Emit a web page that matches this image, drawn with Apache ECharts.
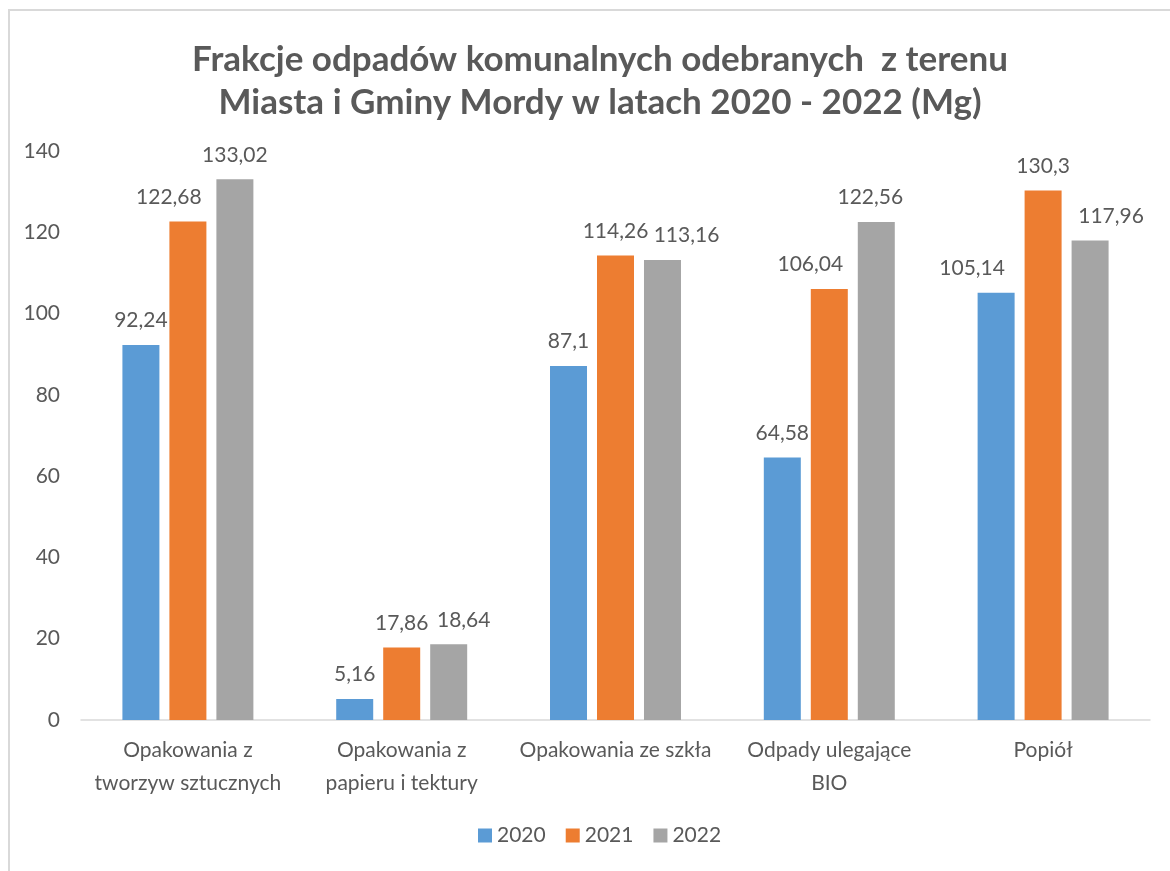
<!DOCTYPE html>
<html>
<head>
<meta charset="utf-8">
<script src="https://cdn.jsdelivr.net/npm/echarts@6/dist/echarts.min.js"></script>
<style>
  html, body { margin: 0; padding: 0; background: #fff; }
  #chart { width: 1170px; height: 871px; }
</style>
</head>
<body>
<div id="chart"></div>
<script>
// dane
const categories = [
  'Opakowania z\ntworzyw sztucznych',
  'Opakowania z\npapieru i tektury',
  'Opakowania ze szkła',
  'Odpady ulegające\nBIO',
  'Popiół'
];
const years = ['2020', '2021', '2022'];
const values2020 = [92.24, 5.16, 87.1, 64.58, 105.14];
const values2021 = [122.68, 17.86, 114.26, 106.04, 130.3];
const values2022 = [133.02, 18.64, 113.16, 122.56, 117.96];
const yTicks = [0, 20, 40, 60, 80, 100, 120, 140];

// przesunięcia etykiet w poziomie (jak w oryginale z Excela)
const labelShifts = [
  [0, 0, 0, 0, -24],
  [-19, 0, 0, -19, 0],
  [0, 15, 24, -6, 21]
];

const colors = ['#5B9BD5', '#ED7D31', '#A5A5A5'];
const fontFamily = 'Lato, "Open Sans", sans-serif';
const textColor = '#595959';

const chart = echarts.init(document.getElementById('chart'), null, { renderer: 'canvas' });

const fmt = p => String(p.value).replace('.', ',');

const makeSeries = (name, data, i) => ({
  name: name,
  type: 'bar',
  data: data.map((v, j) => ({
    value: v,
    label: { offset: [labelShifts[i][j], 0] }
  })),
  barWidth: 37,
  barGap: '27%',
  itemStyle: { color: colors[i] },
  label: {
    show: true,
    position: 'top',
    distance: 14,
    formatter: fmt,
    color: textColor,
    fontSize: 21,
    fontFamily: fontFamily
  }
});

const option = {
  animation: false,
  backgroundColor: '#ffffff',
  color: colors,
  title: {
    text: 'Frakcje odpadów komunalnych odebranych  z terenu\nMiasta i Gminy Mordy w latach 2020 - 2022 (Mg)',
    left: 595,
    top: 33,
    textAlign: 'center',
    textStyle: {
      color: textColor,
      fontSize: 35,
      fontWeight: 'bold',
      fontFamily: fontFamily,
      lineHeight: 43
    }
  },
  legend: {
    bottom: 20,
    left: 473,
    itemWidth: 14,
    itemHeight: 14,
    itemGap: 20,
    icon: 'rect',
    textStyle: { color: textColor, fontSize: 21, fontFamily: fontFamily }
  },
  grid: {
    left: 81,
    right: 20,
    top: 151,
    bottom: 151
  },
  xAxis: {
    type: 'category',
    data: categories,
    axisLine: { lineStyle: { color: '#D9D9D9', width: 1.5 } },
    axisTick: { show: false },
    axisLabel: {
      color: textColor,
      fontSize: 21,
      fontFamily: fontFamily,
      lineHeight: 33,
      margin: 14,
      interval: 0
    }
  },
  yAxis: {
    type: 'value',
    min: yTicks[0],
    max: yTicks[yTicks.length - 1],
    interval: 20,
    axisLine: { show: false },
    axisTick: { show: false },
    splitLine: { show: false },
    axisLabel: {
      color: textColor,
      fontSize: 21,
      fontFamily: fontFamily,
      margin: 21
    }
  },
  series: [
    makeSeries(years[0], values2020, 0),
    makeSeries(years[1], values2021, 1),
    makeSeries(years[2], values2022, 2)
  ],
  graphic: [
    {
      type: 'rect',
      shape: { x: 9, y: 10, width: 1200, height: 900 },
      style: { fill: 'none', stroke: '#D9D9D9', lineWidth: 2 },
      silent: true,
      z: -1
    }
  ]
};

chart.setOption(option);
</script>
</body>
</html>
